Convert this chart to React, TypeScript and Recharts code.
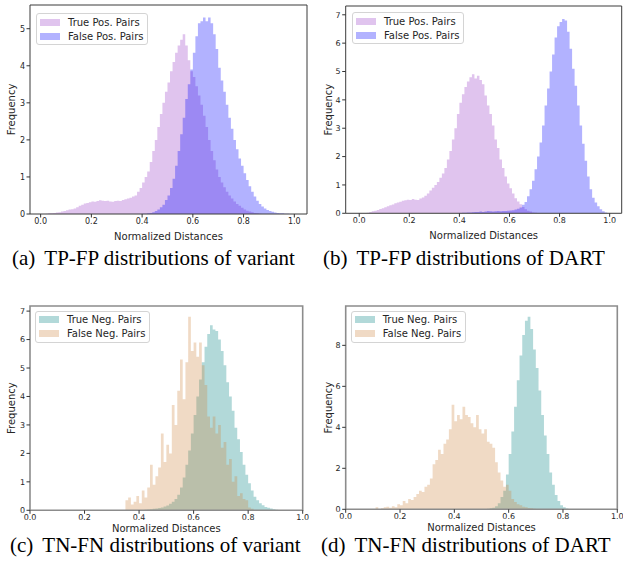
import React from 'react';
import { AreaChart, Area, XAxis, YAxis, ReferenceArea } from 'recharts';

// histogram bins are 0.01 wide; each series lists heights from its first non-empty bin
const BIN = 0.01;
const xTicks = [0, 0.2, 0.4, 0.6, 0.8, 1.0];
const yTicksA = [0, 1, 2, 3, 4, 5];
const yTicksB = [0, 1, 2, 3, 4, 5, 6, 7];
const yTicksC = [0, 1, 2, 3, 4, 5, 6, 7];
const yTicksD = [0, 2, 4, 6, 8];

const tpVariantStart = 0.02;
const tpVariant = [
  0.01, 0.02, 0.02, 0.03, 0.04, 0.05, 0.07, 0.08,
  0.1, 0.12, 0.13, 0.15, 0.18, 0.22, 0.25, 0.28, 0.3, 0.32,
  0.34, 0.33, 0.35, 0.37, 0.36, 0.35, 0.36, 0.34, 0.33, 0.35,
  0.36, 0.35, 0.38, 0.4, 0.42, 0.44, 0.47, 0.5, 0.6, 0.7,
  0.85, 1.0, 1.15, 1.4, 1.7, 2.0, 2.35, 2.7, 3.0, 3.3,
  3.55, 3.85, 4.1, 4.35, 4.55, 4.7, 4.85, 4.55, 4.15, 3.85,
  3.7, 3.45, 3.2, 2.95, 2.65, 2.35, 2.0, 1.7, 1.45, 1.2,
  1.0, 0.85, 0.72, 0.6, 0.5, 0.42, 0.34, 0.27, 0.22, 0.17,
  0.12, 0.09, 0.07, 0.05, 0.03, 0.02, 0.01,
];

const fpVariantStart = 0.4;
const fpVariant = [
  0.01, 0.01, 0.02, 0.03, 0.05, 0.08, 0.12, 0.18, 0.25, 0.38,
  0.5, 0.7, 0.95, 1.3, 1.7, 2.15, 2.6, 3.1, 3.5, 3.9,
  4.35, 4.8, 5.15, 5.2, 5.3, 5.2, 5.3, 5.15, 4.85, 4.45,
  3.95, 3.6, 3.3, 2.95, 2.6, 2.3, 2.0, 1.75, 1.5, 1.3,
  1.1, 0.92, 0.75, 0.6, 0.47, 0.36, 0.27, 0.2, 0.15, 0.11,
  0.08, 0.06, 0.04, 0.03, 0.02, 0.02, 0.01, 0.01,
];

const tpDartStart = 0.03;
const tpDart = [
  0.02, 0.05, 0.07, 0.09, 0.12, 0.15, 0.18,
  0.21, 0.25, 0.28, 0.31, 0.35, 0.38, 0.41, 0.44, 0.46, 0.48,
  0.47, 0.5, 0.48, 0.47, 0.52, 0.56, 0.62, 0.7, 0.8, 0.9,
  1.0, 1.1, 1.25, 1.4, 1.6, 1.9, 2.2, 2.6, 3.0, 3.5,
  3.9, 4.2, 4.45, 4.65, 4.8, 4.9, 4.75, 4.85, 4.7, 4.55,
  4.15, 3.8, 3.5, 3.1, 2.6, 2.3, 1.9, 1.6, 1.3, 1.05,
  0.88, 0.7, 0.53, 0.42, 0.32, 0.22, 0.14, 0.09, 0.06, 0.03,
  0.02, 0.01,
];

const fpDartStart = 0.4;
const fpDart = [
  0.01, 0.02, 0.02, 0.03, 0.03, 0.04, 0.05, 0.05, 0.06, 0.05,
  0.06, 0.08, 0.07, 0.06, 0.07, 0.08, 0.07, 0.08, 0.08, 0.09,
  0.1, 0.11, 0.13, 0.16, 0.2, 0.3, 0.4, 0.6, 0.85, 1.15,
  1.55, 2.0, 2.5, 3.1, 3.8, 4.4, 5.0, 5.6, 6.2, 6.6,
  6.75, 6.85, 6.8, 6.4, 5.8, 5.1, 4.5, 3.8, 3.1, 2.45,
  1.85, 1.3, 0.85, 0.55, 0.38, 0.25, 0.14, 0.07, 0.03, 0.01,
];

const tnVariantStart = 0.4;
const tnVariant = [
  0.01, 0.01, 0.02, 0.03, 0.04, 0.05, 0.06, 0.08, 0.1, 0.13,
  0.17, 0.23, 0.3, 0.4, 0.55, 0.8, 1.15, 1.6, 2.1, 2.7,
  3.35, 4.0, 4.6, 5.2, 5.75, 6.2, 6.5, 6.35, 6.3, 6.0,
  5.6, 5.1, 4.5, 4.0, 3.5, 2.9, 2.5, 2.05, 1.6, 1.25,
  0.95, 0.7, 0.48, 0.35, 0.25, 0.18, 0.12, 0.09, 0.06, 0.04,
  0.02, 0.01,
];

const fnVariantStart = 0.35;
const fnVariant = [
  0.35, 0.45, 0.2, 0.3, 0.5,
  0.25, 0.7, 0.45, 0.8, 1.6, 0.9, 1.2, 1.5, 2.7, 1.7,
  2.3, 2.0, 3.7, 3.0, 4.2, 5.3, 3.9, 5.2, 6.8, 5.6,
  5.9, 5.4, 5.9, 5.1, 4.4, 3.3, 2.9, 3.3, 2.7, 3.0,
  2.2, 2.4, 1.6, 1.8, 1.0, 1.2, 0.5, 0.6, 0.4, 0.35,
  0.1, 0.05,
];

const tnDartStart = 0.5;
const tnDart = [
  0.01, 0.02, 0.03, 0.05, 0.08, 0.15, 0.3, 0.6, 0.9, 1.7,
  2.7, 3.8, 5.0, 6.3, 7.5, 8.5, 9.2, 9.4, 8.8, 7.8,
  6.9, 5.8, 4.6, 3.6, 2.7, 1.8, 1.2, 0.7, 0.4, 0.2,
  0.1, 0.04, 0.01,
];

const fnDartStart = 0.11;
const fnDart = [
  0.1, 0.02, 0.05, 0.1, 0.12, 0.08, 0.15, 0.1, 0.25,
  0.2, 0.4, 0.3, 0.5, 0.45, 0.6, 0.75, 0.9, 0.85, 1.1,
  1.2, 1.5, 2.2, 2.4, 2.9, 2.7, 3.2, 3.4, 3.9, 5.1,
  4.3, 4.6, 4.4, 5.0, 4.6, 4.5, 4.2, 4.0, 4.6, 3.9,
  3.7, 3.9, 3.3, 3.2, 3.0, 2.3, 1.8, 1.4, 1.1, 1.2,
  0.9, 0.5, 0.35, 0.25, 0.2, 0.12, 0.1, 0.06, 0.05, 0.03,
  0.02,
];

type Hist = { start: number; values: number[] };

function toRows(first: Hist, second: Hist) {
  const pick = (h: Hist, x: number) => {
    const k = Math.round((x - h.start) / BIN);
    return k >= 0 && k < h.values.length ? h.values[k] : 0;
  };
  const rows = [];
  for (let i = 0; i <= 100; i++) {
    const x = +(i * BIN).toFixed(2);
    rows.push({ x, first: pick(first, x), second: pick(second, x) });
  }
  return rows;
}

const FONT = '"DejaVu Sans", sans-serif';
const TXT = '#262626';

const POS = [
  { name: 'True Pos. Pairs', fill: '#e0c4ee', opacity: 1 },
  { name: 'False Pos. Pairs', fill: '#0000ff', opacity: 0.3 },
];
const NEG = [
  { name: 'True Neg. Pairs', fill: '#008080', opacity: 0.3 },
  { name: 'False Neg. Pairs', fill: '#cd853f', opacity: 0.3 },
];

const panels = [
  {
    id: 'a',
    rows: toRows({ start: tpVariantStart, values: tpVariant }, { start: fpVariantStart, values: fpVariant }),
    series: POS,
    plot: { x: 30, y: 5, w: 277, h: 209 },
    yw: 30, labelX: 11.7, labelGap: 25.5,
    xDomain: [-0.042, 1.05], yMax: 5.64, yTicks: yTicksA,
    frame: { stroke: '#3a3a3a', width: 1 },
    legend: { x: 36, y: 13 },
    caption: { x: 12, y: 249.5, tag: '(a)', text: 'TP-FP distributions of variant' },
  },
  {
    id: 'b',
    rows: toRows({ start: tpDartStart, values: tpDart }, { start: fpDartStart, values: fpDart }),
    series: POS,
    plot: { x: 345.7, y: 6, w: 276, h: 207.3 },
    yw: 35.7, labelX: 18, labelGap: 25.5,
    xDomain: [-0.054, 1.048], yMax: 7.31, yTicks: yTicksB,
    frame: { stroke: '#3a3a3a', width: 1 },
    legend: { x: 352, y: 12 },
    caption: { x: 323, y: 249.5, tag: '(b)', text: 'TP-FP distributions of DART' },
  },
  {
    id: 'c',
    rows: toRows({ start: tnVariantStart, values: tnVariant }, { start: fnVariantStart, values: fnVariant }),
    series: NEG,
    plot: { x: 30, y: 305.7, w: 272.7, h: 204.3 },
    yw: 30, labelX: 11.7, labelGap: 22,
    xDomain: [0, 1], yMax: 7.18, yTicks: yTicksC,
    frame: { stroke: '#8c8c8c', width: 1.6 },
    legend: { x: 35, y: 310.7 },
    caption: { x: 10, y: 536.5, tag: '(c)', text: 'TN-FN distributions of variant' },
  },
  {
    id: 'd',
    rows: toRows({ start: tnDartStart, values: tnDart }, { start: fnDartStart, values: fnDart }),
    series: NEG,
    plot: { x: 345.7, y: 305.7, w: 271.6, h: 203.3 },
    yw: 35.7, labelX: 18, labelGap: 22,
    xDomain: [0, 1], yMax: 9.92, yTicks: yTicksD,
    frame: { stroke: '#8c8c8c', width: 1.6 },
    legend: { x: 350.7, y: 310.7 },
    caption: { x: 321, y: 536.5, tag: '(d)', text: 'TN-FN distributions of DART' },
  },
];

const MT = 6;
const MR = 12;
const XH = 34;

function Panel({ p }: { p: any }) {
  const chartW = p.yw + p.plot.w + MR;
  const chartH = MT + p.plot.h + XH;
  const tick = { fontSize: 8, fill: TXT, fontFamily: FONT };
  return (
    <div style={{ position: 'absolute', left: p.plot.x - p.yw, top: p.plot.y - MT }}>
      <AreaChart
        width={chartW}
        height={chartH}
        data={p.rows}
        margin={{ top: MT, right: MR, bottom: 0, left: 0 }}
      >
        <XAxis
          type="number"
          dataKey="x"
          domain={p.xDomain}
          allowDataOverflow
          ticks={xTicks}
          interval={0}
          tickFormatter={(v: number) => v.toFixed(1)}
          axisLine={false}
          tickLine={{ stroke: '#333' }}
          tickSize={3.5}
          tickMargin={1}
          tick={tick}
          height={XH}
          label={{
            value: 'Normalized Distances',
            position: 'insideBottom',
            offset: XH - p.labelGap,
            style: { fontSize: 10, fill: TXT, fontFamily: FONT },
          }}
        />
        <YAxis
          type="number"
          domain={[0, p.yMax]}
          allowDataOverflow
          ticks={p.yTicks}
          interval={0}
          axisLine={false}
          tickLine={{ stroke: '#333' }}
          tickSize={3.5}
          tickMargin={1.5}
          tick={tick}
          width={p.yw}
          label={{
            value: 'Frequency',
            angle: -90,
            position: 'insideLeft',
            offset: p.labelX,
            style: { fontSize: 10, fill: TXT, fontFamily: FONT, textAnchor: 'middle' },
          }}
        />
        <Area
          type="stepAfter"
          dataKey="first"
          name={p.series[0].name}
          stroke="none"
          fill={p.series[0].fill}
          fillOpacity={p.series[0].opacity}
          dot={false}
          activeDot={false}
          isAnimationActive={false}
        />
        <Area
          type="stepAfter"
          dataKey="second"
          name={p.series[1].name}
          stroke="none"
          fill={p.series[1].fill}
          fillOpacity={p.series[1].opacity}
          dot={false}
          activeDot={false}
          isAnimationActive={false}
        />
        <ReferenceArea
          x1={p.xDomain[0]}
          x2={p.xDomain[1]}
          y1={0}
          y2={p.yMax}
          ifOverflow="visible"
          fill="none"
          stroke={p.frame.stroke}
          strokeWidth={p.frame.width}
        />
      </AreaChart>
      <div
        style={{
          position: 'absolute',
          left: p.legend.x - (p.plot.x - p.yw),
          top: p.legend.y - (p.plot.y - MT),
          border: '1px solid #d4d4d4',
          borderRadius: 3,
          background: 'rgba(255,255,255,0.85)',
          padding: '1px 4px 1px 3px',
          fontFamily: FONT,
          fontSize: 10,
          color: TXT,
          whiteSpace: 'nowrap',
        }}
      >
        {p.series.map((s: any) => (
          <div key={s.name} style={{ display: 'flex', alignItems: 'center', height: 14 }}>
            <span
              style={{
                display: 'inline-block',
                width: 20,
                height: 7,
                marginRight: 8,
                background: s.fill,
                opacity: s.opacity,
              }}
            />
            <span>{s.name}</span>
          </div>
        ))}
      </div>
    </div>
  );
}

export default function App() {
  return (
    <div style={{ position: 'absolute', left: 0, top: 0, width: 623, height: 573, overflow: 'hidden', background: '#fff' }}>
      {panels.map((p) => (
        <Panel key={p.id} p={p} />
      ))}
      {panels.map((p) => (
        <div
          key={'cap' + p.id}
          style={{
            position: 'absolute',
            left: p.caption.x,
            top: p.caption.y,
            fontFamily: '"Liberation Serif", "Times New Roman", serif',
            fontSize: 21,
            lineHeight: '17px',
            color: '#000',
            whiteSpace: 'nowrap',
          }}
        >
          {p.caption.tag}
          <span style={{ marginLeft: 9 }}>{p.caption.text}</span>
        </div>
      ))}
    </div>
  );
}
